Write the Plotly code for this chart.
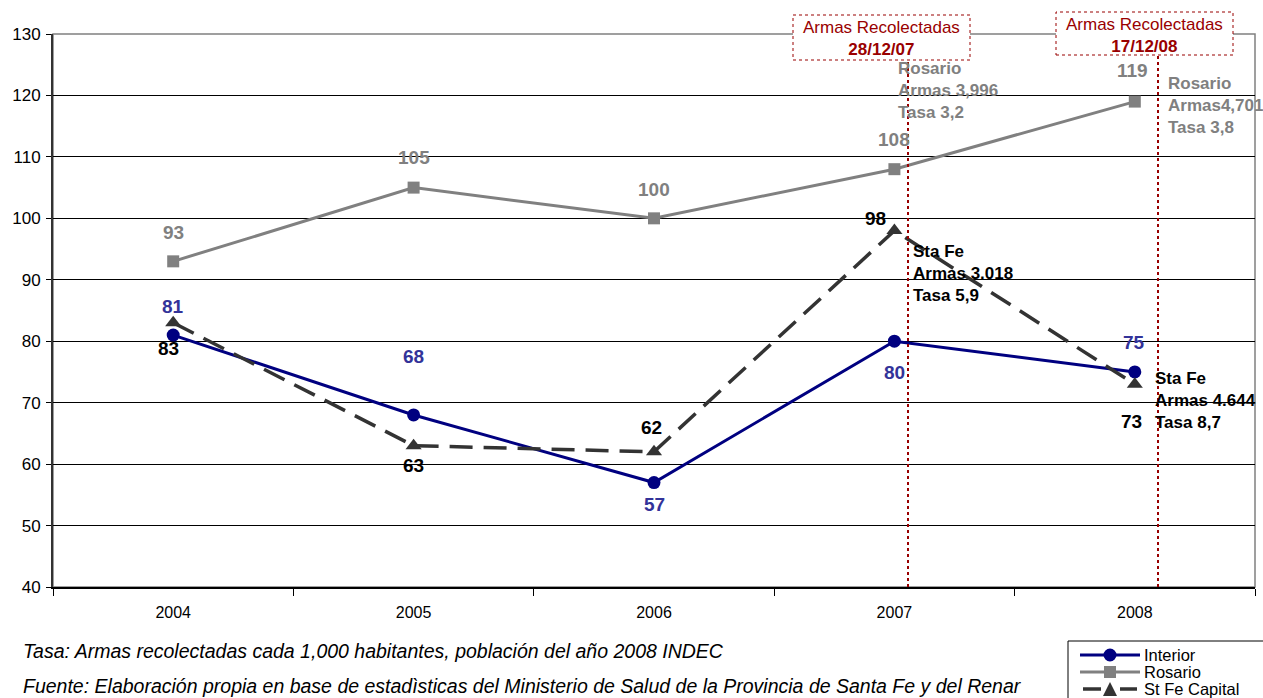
import plotly.graph_objects as go

# Data
years = ["2004", "2005", "2006", "2007", "2008"]
interior = [81, 68, 57, 80, 75]
rosario = [93, 105, 100, 108, 119]
stfe_capital = [83, 63, 62, 98, 73]
series_names = ["Interior", "Rosario", "St Fe Capital"]

# Label offsets (px) for the value labels of each series: (xshift, yshift)
interior_off = [(0, 29), (0, 58), (0, -22), (0, -31), (-1, 29)]
rosario_off = [(0, 29), (0, 30), (0, 29), (0, 30), (-2, 31)]
stfe_off = [(-5, -26), (0, -20), (-3, 24), (-19, 12), (-3, -37)]

FONT = "Arial, Liberation Sans, sans-serif"
NAVY = "#000080"
NAVY_TXT = "#333399"
GRAY = "#808080"
DARK = "#333333"
RED = "#990000"
DASH = "23px,11px"

# Plot-area geometry in pixels (used to place free text and the key)
L, R, T, B = 53, 1255, 34, 587
W, H = 1263, 698


def px(x):
    return (x - L) / (R - L)


def py(y):
    return (B - y) / (B - T)


fig = go.Figure()

fig.add_trace(go.Scatter(
    x=years, y=interior, name=series_names[0], mode="lines+markers",
    line=dict(color=NAVY, width=3),
    marker=dict(symbol="circle", size=13, color=NAVY),
))
fig.add_trace(go.Scatter(
    x=years, y=rosario, name=series_names[1], mode="lines+markers",
    line=dict(color=GRAY, width=3),
    marker=dict(symbol="square", size=12, color=GRAY),
))
fig.add_trace(go.Scatter(
    x=years, y=stfe_capital, name=series_names[2], mode="lines+markers",
    line=dict(color=DARK, width=3.5, dash=DASH),
    marker=dict(symbol="triangle-up", size=14, color=DARK),
))

annotations = []
shapes = []


def value_labels(values, offsets, color):
    for i, (v, (dx, dy)) in enumerate(zip(values, offsets)):
        annotations.append(dict(
            x=i, y=v, xref="x", yref="y", text="<b>%d</b>" % v, showarrow=False,
            xshift=dx, yshift=dy,
            font=dict(family=FONT, size=19, color=color),
        ))


value_labels(interior, interior_off, NAVY_TXT)
value_labels(rosario, rosario_off, GRAY)
value_labels(stfe_capital, stfe_off, "black")


def block(x, y, lines, color):
    annotations.append(dict(
        x=px(x), y=py(y), xref="paper", yref="paper", xanchor="left", yanchor="top",
        text="<b>" + "<br>".join(lines) + "</b>", showarrow=False, align="left",
        font=dict(family=FONT, size=17, color=color),
    ))


block(896, 57, ["Rosario", "Armas 3,996", "Tasa 3,2"], GRAY)
block(1166, 72, ["Rosario", "Armas4,701", "Tasa 3,8"], GRAY)
block(911, 240, ["Sta Fe", "Armas 3.018", "Tasa 5,9"], "black")
block(1153, 367, ["Sta Fe", "Armas 4.644", "Tasa 8,7"], "black")

# Collection-date boxes
for (x0, x1, y0, y1, date) in [(793, 970, 15, 60, "28/12/07"), (1056, 1233, 12, 55, "17/12/08")]:
    shapes.append(dict(
        type="rect", xref="paper", yref="paper",
        x0=px(x0), x1=px(x1), y0=py(y1), y1=py(y0),
        line=dict(color=RED, width=1, dash="dot"), fillcolor="white", layer="above",
    ))
    annotations.append(dict(
        x=px((x0 + x1) / 2), y=py((y0 + y1) / 2 + 1.5), xref="paper", yref="paper",
        xanchor="center", yanchor="middle",
        text="Armas Recolectadas<br><b>" + date + "</b>", showarrow=False,
        font=dict(family=FONT, size=17, color=RED),
    ))

# Vertical markers at the collection dates
for x0, y_top in [(908, 60), (1158, 56)]:
    shapes.append(dict(
        type="line", xref="paper", yref="paper",
        x0=px(x0), x1=px(x0), y0=0, y1=py(y_top),
        line=dict(color=RED, width=2, dash="dot"), layer="above",
    ))

# Plot frame
shapes.append(dict(
    type="rect", xref="paper", yref="paper", x0=0, x1=1, y0=0, y1=1,
    line=dict(color=GRAY, width=1.5), layer="below",
))

# Footnotes
for y, txt in [
    (651, "Tasa: Armas recolectadas cada 1,000 habitantes, población del año 2008 INDEC"),
    (686, "Fuente: Elaboración propia en base de estadìsticas del Ministerio de Salud de la Provincia de Santa Fe y del Renar"),
]:
    annotations.append(dict(
        x=px(21), y=py(y), xref="paper", yref="paper", xanchor="left", yanchor="middle",
        text="<i>" + txt + "</i>", showarrow=False,
        font=dict(family=FONT, size=19.5, color="black"),
    ))

# Key (drawn as paper shapes so the rows sit close together)
shapes.append(dict(
    type="rect", xref="paper", yref="paper",
    x0=px(1068), x1=px(1290), y0=py(712), y1=py(641),
    line=dict(color="black", width=1), fillcolor="white", layer="above",
))
key_rows = [655, 672, 689]
# Interior
shapes.append(dict(type="line", xref="paper", yref="paper",
                   x0=px(1080), x1=px(1140), y0=py(key_rows[0]), y1=py(key_rows[0]),
                   line=dict(color=NAVY, width=3), layer="above"))
shapes.append(dict(type="circle", xref="paper", yref="paper",
                   x0=px(1103.5), x1=px(1116.5), y0=py(key_rows[0] + 6.5), y1=py(key_rows[0] - 6.5),
                   line=dict(color=NAVY, width=0), fillcolor=NAVY, layer="above"))
# Rosario
shapes.append(dict(type="line", xref="paper", yref="paper",
                   x0=px(1080), x1=px(1140), y0=py(key_rows[1]), y1=py(key_rows[1]),
                   line=dict(color=GRAY, width=3), layer="above"))
shapes.append(dict(type="rect", xref="paper", yref="paper",
                   x0=px(1104), x1=px(1116), y0=py(key_rows[1] + 6), y1=py(key_rows[1] - 6),
                   line=dict(color=GRAY, width=0), fillcolor=GRAY, layer="above"))
# St Fe Capital
for a, b in [(1083, 1101), (1120, 1137)]:
    shapes.append(dict(type="line", xref="paper", yref="paper",
                       x0=px(a), x1=px(b), y0=py(key_rows[2]), y1=py(key_rows[2]),
                       line=dict(color=DARK, width=3.5), layer="above"))
tri = "M {:.5f},{:.5f} L {:.5f},{:.5f} L {:.5f},{:.5f} Z".format(
    px(1103), py(key_rows[2] + 7), px(1117), py(key_rows[2] + 7), px(1110), py(key_rows[2] - 7))
shapes.append(dict(type="path", xref="paper", yref="paper", path=tri,
                   line=dict(color=DARK, width=0), fillcolor=DARK, layer="above"))
for name, yrow in zip(series_names, key_rows):
    annotations.append(dict(
        x=px(1142), y=py(yrow), xref="paper", yref="paper", xanchor="left", yanchor="middle",
        text=name, showarrow=False, font=dict(family=FONT, size=16.5, color="black"),
    ))

fig.update_layout(
    width=W, height=H,
    margin=dict(l=L, r=W - R, t=T, b=H - B, autoexpand=False),
    paper_bgcolor="white", plot_bgcolor="white",
    font=dict(family=FONT, color="black"),
    showlegend=False,
    annotations=annotations,
    shapes=shapes,
    xaxis=dict(
        type="category", range=[-0.5, 4.5],
        showgrid=False, showline=True, linecolor="black", linewidth=1.5,
        ticks="outside", tickson="boundaries", ticklen=7, tickcolor="black",
        tickfont=dict(family=FONT, size=16, color="black"),
        ticklabelstandoff=10,
    ),
    yaxis=dict(
        range=[40, 130], tickvals=list(range(40, 131, 10)),
        showgrid=True, gridcolor="black", gridwidth=1,
        showline=True, linecolor="#333333", linewidth=2,
        ticks="outside", ticklen=5, tickcolor="black",
        tickfont=dict(family=FONT, size=17, color="black"),
        ticklabelstandoff=2,
        zeroline=False,
    ),
)

fig.write_html("out.html")
